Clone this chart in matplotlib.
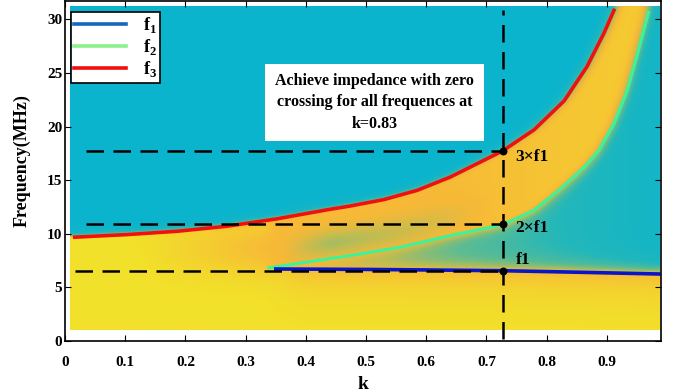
import matplotlib.pyplot as plt
import numpy as np
from matplotlib.colors import LinearSegmentedColormap
from matplotlib.lines import Line2D

plt.rcParams['font.family'] = 'Liberation Serif'
plt.rcParams['font.weight'] = 'bold'
plt.rcParams['mathtext.fontset'] = 'custom'
plt.rcParams['mathtext.rm'] = 'Liberation Serif:bold'
plt.rcParams['mathtext.bf'] = 'Liberation Serif:bold'

# curves (k, frequency in MHz)
f3_k = [0.013, 0.103, 0.186, 0.269, 0.352, 0.436, 0.474, 0.53, 0.585, 0.64, 0.696, 0.727,
        0.779, 0.829, 0.867, 0.895, 0.913]
f3_f = [9.68, 9.93, 10.24, 10.71, 11.4, 12.25, 12.6, 13.2, 14.06, 15.3, 16.87, 17.74,
        19.7, 22.4, 25.6, 28.7, 31.0]

f2_k = [0.336, 0.40, 0.474, 0.557, 0.64, 0.727, 0.779, 0.823, 0.862, 0.887, 0.912, 0.934, 0.950, 0.970]
f2_f = [6.81, 7.35, 7.97, 8.75, 9.84, 10.84, 12.2, 14.2, 16.2, 17.8, 20.3, 23.4, 26.6, 30.8]

f1_k = [0.347, 0.5, 0.6, 0.727, 0.85, 0.989]
f1_f = [6.72, 6.68, 6.63, 6.56, 6.42, 6.25]

k_sel = 0.727
marks_f = [6.56, 10.9, 17.7]
mark_labels = ['f1', '2×f1', '3×f1']
label_f = [7.6, 10.5, 17.2]
hline_start = [0.017, 0.034, 0.035]


def blur(a, sx, sy):
    for axis, s in ((1, sx), (0, sy)):
        n = int(3 * s)
        g = np.exp(-0.5 * (np.arange(-n, n + 1) / s) ** 2)
        g /= g.sum()
        pad = [(0, 0), (0, 0)]
        pad[axis] = (n, n)
        ap = np.pad(a, pad, mode='edge')
        a = np.apply_along_axis(lambda v: np.convolve(v, g, mode='valid'), axis, ap)
    return a


# background phase map, shaped around the read curves
kk = np.linspace(0.008, 0.987, 400)
ff = np.linspace(1.0, 31.2, 400)
K, F = np.meshgrid(kk, ff)
red = np.interp(K, f3_k, f3_f, right=60)
red = np.where(K > f3_k[-1], 31.0 + (K - f3_k[-1]) * 400, red)
grn = np.interp(K, f2_k, f2_f, right=60)
grn = np.where(K > f2_k[-1], 30.8 + (K - f2_k[-1]) * 400, grn)
grn = np.where(K < f2_k[0], 6.8, grn)
blu = np.interp(K, f1_k, f1_f)

V = np.ones_like(K)
# left side below red: yellow turning orange towards the band
ramp = np.clip((K - 0.12) / 0.22, 0, 1)
tint = 0.2 * ramp * np.exp(-((F - 8.6) / 2.6) ** 2)
tint = np.maximum(tint, 0.2 * np.clip((K - 0.1) / 0.2, 0, 1) * np.exp(-(red - F) / 1.5))
V = np.where((K < 0.34) & (F <= red), 1 - tint, V)
# between green and red
band = (K >= 0.34) & (F <= red) & (F > grn)
t = (F - grn) / np.maximum(red - grn, 1e-3)
olive = 0.2 * np.exp(-((t - 0.3) / 0.25) ** 2) * np.clip((0.72 - K) / 0.3, 0, 1) * np.clip((K - 0.36) / 0.08, 0, 1)
V = np.where(band, 0.8 + 0.08 * np.clip((K - 0.6) / 0.3, 0, 1) - olive, V)
# between blue and green
mid = (K >= 0.34) & (F <= grn) & (F > blu)
base = np.interp(K, [0.34, 0.45, 0.6, 0.75, 0.9, 0.99], [0.8, 0.62, 0.5, 0.38, 0.22, 0.1])
mv = base + (0.8 - base) * np.exp(-(grn - F) / 0.5) + (0.75 - base) * np.exp(-(F - blu) / 0.8)
V = np.where(mid, np.clip(mv, 0, 0.85), V)
# below blue
low = (K >= 0.34) & (F <= blu)
V = np.where(low, 1 - 0.2 * np.exp(-(blu - F) / 1.8) * np.clip((K - 0.3) / 0.1, 0, 1), V)
# above red: teal
V = np.where(F > red, 0.75 * np.exp(-(F - red) / 0.25), V)
V = blur(V, 4, 1.5)

cmap = LinearSegmentedColormap.from_list('ph', [
    (0.0, '#0BB4CD'), (0.3, '#22B7BB'), (0.5, '#5DBC92'), (0.65, '#B9BD55'),
    (0.8, '#F7B937'), (1.0, '#F2E12A')])

fig = plt.figure(figsize=(6.78, 3.92), dpi=100)
ax = fig.add_axes([0.096, 0.13, 0.879, 0.867])

ax.imshow(V, origin='lower', extent=[kk[0], kk[-1], ff[0], ff[-1]],
          aspect='auto', cmap=cmap, vmin=0, vmax=1, interpolation='bilinear', zorder=0)

ax.plot(f3_k, f3_f, color='#F01010', lw=2.6, zorder=2, solid_capstyle='butt')
ax.plot(f2_k, f2_f, color='#3CF29A', lw=2.2, zorder=2, solid_capstyle='butt')
ax.plot(f1_k, f1_f, color='#0A14C8', lw=2.6, zorder=2, solid_capstyle='butt')

for fm, x0 in zip(marks_f, hline_start):
    ax.plot([x0, k_sel], [fm, fm], color='black', lw=1.8, dashes=(7, 3.8), zorder=3)
ax.plot([k_sel, k_sel], [0.2, 30.9], color='black', lw=1.8, dashes=(7, 3.8), zorder=3)
ax.scatter([k_sel] * 3, marks_f, s=22, color='black', zorder=4)

for fl, lab in zip(label_f, mark_labels):
    ax.text(0.748, fl, lab, fontsize=12.5, fontweight='bold', ha='left', va='center', zorder=5)

ax.text(0.514, 22.25, 'Achieve impedance with zero\ncrossing for all frequences at\nk=0.83',
        ha='center', va='center', fontsize=11.5, fontweight='bold', linespacing=1.45,
        bbox=dict(boxstyle='square,pad=0.6', fc='white', ec='none'), zorder=5)

handles = [Line2D([], [], color='#1568C0', lw=2.6),
           Line2D([], [], color='#8CF08C', lw=2.6),
           Line2D([], [], color='#F01010', lw=2.6)]
leg = ax.legend(handles, ['f$_1$', 'f$_2$', 'f$_3$'], loc='upper left',
                bbox_to_anchor=(0.0, 0.985), fancybox=False, framealpha=1,
                edgecolor='black', handlelength=2.9, handletextpad=0.9,
                borderpad=0.2, labelspacing=0.1,
                prop={'family': 'Liberation Serif', 'weight': 'bold', 'size': 13},
                borderaxespad=0.3)
leg.get_frame().set_linewidth(1.2)
leg.set_zorder(6)

ax.set_xlim(0, 0.99)
ax.set_ylim(0, 31.7)
ax.set_xticks(np.arange(0, 1.0, 0.1))
ax.set_xticklabels(['0', '0.1', '0.2', '0.3', '0.4', '0.5', '0.6', '0.7', '0.8', '0.9'])
ax.set_yticks([0, 5, 10, 15, 20, 25, 30])
ax.tick_params(direction='in', top=True, right=True, length=4, width=0.8, labelsize=11)
ax.tick_params(axis='x', pad=11)
ax.tick_params(axis='y', pad=2)
for lab in ax.get_xticklabels() + ax.get_yticklabels():
    lab.set_fontweight('bold')
for sp in ax.spines.values():
    sp.set_linewidth(1.2)

ax.set_xlabel('k', fontsize=14, fontweight='bold', labelpad=5)
ax.set_ylabel('Frequency(MHz)', fontsize=13, fontweight='bold')
ax.yaxis.set_label_coords(-0.058, 0.53)

fig.savefig('out.png', dpi=100)
